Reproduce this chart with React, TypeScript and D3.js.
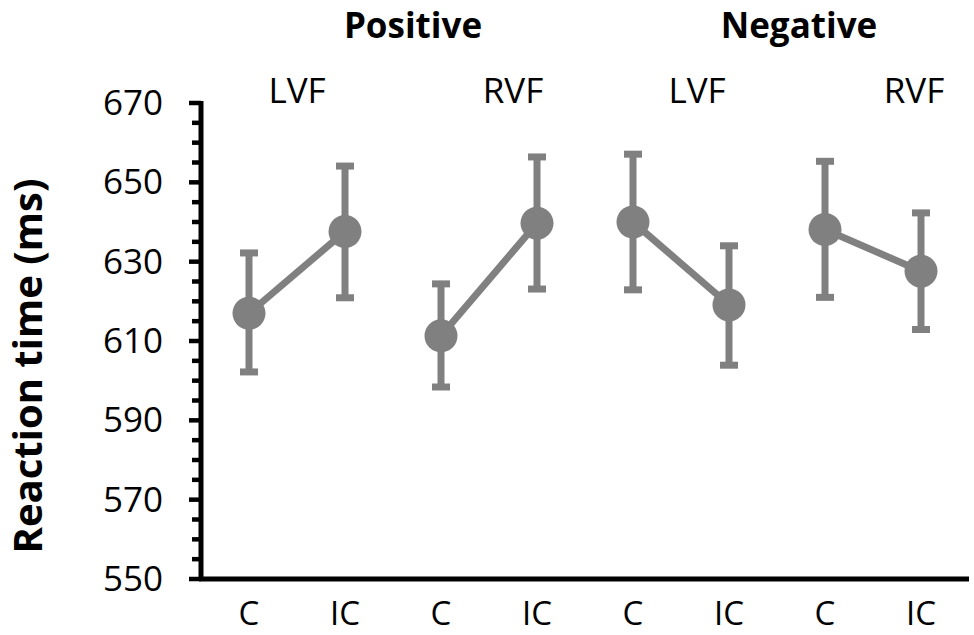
import React from "react";
import * as d3 from "d3";

const categories = ["C", "IC", "C", "IC", "C", "IC", "C", "IC"];
const means = [617.0, 637.6, 611.3, 639.7, 640.0, 619.1, 638.1, 627.6];
const errUpper = [632.2, 654.1, 624.4, 656.4, 657.1, 634.0, 655.3, 642.3];
const errLower = [602.2, 620.9, 598.4, 623.1, 622.9, 603.9, 621.0, 612.9];
const groupLabels = ["Positive", "Negative"];
const fieldLabels = ["LVF", "RVF", "LVF", "RVF"];
const yTicks = [550, 570, 590, 610, 630, 650, 670];

const W = 974;
const H = 635;
const FONT = "'Open Sans', 'Noto Sans', sans-serif";
const GREY = "#808080";

export default function App() {
  const x = d3
    .scaleBand<number>()
    .domain(d3.range(categories.length))
    .range([201, 969])
    .padding(0);
  const y = d3.scaleLinear().domain([550, 670]).range([579, 103]);
  const cx = (i: number) => (x(i) as number) + x.bandwidth() / 2;

  const pairs = d3.range(4);
  const fieldOffsets = [0, 24, 16, 41];
  const groupOffsets = [20, 22];

  return (
    <svg width={W} height={H} style={{ position: "absolute", left: 0, top: 0, background: "#fff" }} fontFamily={FONT}>
      <rect width={W} height={H} fill="#fff" />
      {yTicks.map((t) => (
        <g key={"t" + t}>
          <line x1={189} x2={201} y1={y(t)} y2={y(t)} stroke="#000" strokeWidth={4.5} />
          <text x={163} y={y(t) + 12} textAnchor="end" fontSize={35} fill="#000">
            {t}
          </text>
        </g>
      ))}
      {d3.range(550, 671, 5)
        .filter((v) => (v - 550) % 20 !== 0)
        .map((v) => (
          <line key={"m" + v} x1={192} x2={201} y1={y(v)} y2={y(v)} stroke="#000" strokeWidth={4.5} />
        ))}
      <line x1={201} x2={201} y1={y(670) - 2} y2={y(550) + 2} stroke="#000" strokeWidth={5} />
      <line x1={199} x2={969} y1={y(550)} y2={y(550)} stroke="#000" strokeWidth={5} />
      <text
        transform={`translate(42, ${366}) rotate(-90)`}
        textAnchor="middle"
        fontSize={40}
        fontWeight="bold"
        fill="#000"
      >
        Reaction time (ms)
      </text>
      {categories.map((c, i) => (
        <text key={"c" + i} x={cx(i)} y={625} textAnchor="middle" fontSize={33} fill="#000">
          {c}
        </text>
      ))}
      {groupLabels.map((g, gi) => (
        <text
          key={"g" + gi}
          x={(cx(gi * 4) + cx(gi * 4 + 3)) / 2 + groupOffsets[gi]}
          y={38}
          textAnchor="middle"
          fontSize={35}
          fontWeight="bold"
          fill="#000"
        >
          {g}
        </text>
      ))}
      {fieldLabels.map((f, fi) => (
        <text
          key={"f" + fi}
          x={(cx(fi * 2) + cx(fi * 2 + 1)) / 2 + fieldOffsets[fi]}
          y={103}
          textAnchor="middle"
          fontSize={35}
          fill="#000"
        >
          {f}
        </text>
      ))}
      {pairs.map((p) => (
        <path
          key={"l" + p}
          d={`M${cx(p * 2)},${y(means[p * 2])}L${cx(p * 2 + 1)},${y(means[p * 2 + 1])}`}
          stroke={GREY}
          strokeWidth={7}
          fill="none"
        />
      ))}
      {means.map((m, i) => (
        <g key={"e" + i}>
          <line x1={cx(i)} x2={cx(i)} y1={y(errUpper[i])} y2={y(errLower[i])} stroke={GREY} strokeWidth={7} />
          <line x1={cx(i) - 9} x2={cx(i) + 9} y1={y(errUpper[i])} y2={y(errUpper[i])} stroke={GREY} strokeWidth={7} />
          <line x1={cx(i) - 9} x2={cx(i) + 9} y1={y(errLower[i])} y2={y(errLower[i])} stroke={GREY} strokeWidth={7} />
          <circle cx={cx(i)} cy={y(m)} r={16.5} fill={GREY} />
        </g>
      ))}
    </svg>
  );
}
